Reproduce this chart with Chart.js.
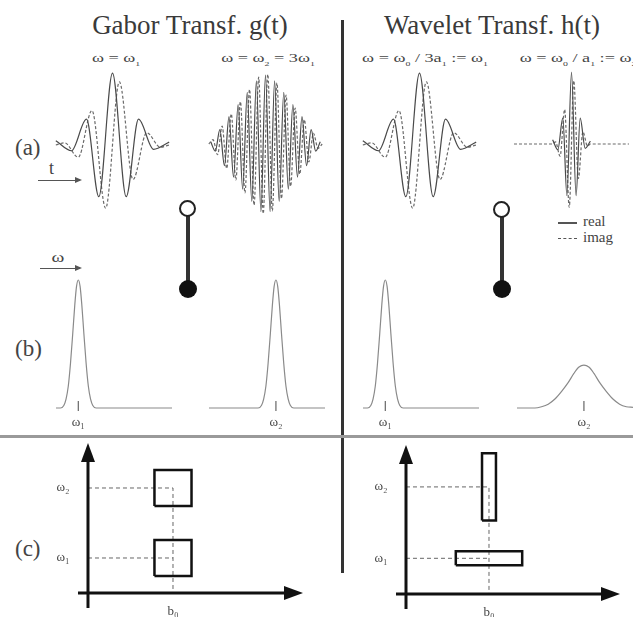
<!DOCTYPE html>
<html>
<head>
<meta charset="utf-8">
<script src="https://cdn.jsdelivr.net/npm/chart.js@4.4.1/dist/chart.umd.min.js"></script>
<style>
  body { margin: 0; background: #fff; }
  #page { position: relative; width: 633px; height: 617px; overflow: hidden; font-family: "Liberation Serif", "DejaVu Serif", serif; color: #444; }
  #page canvas { position: absolute; }
  .t { position: absolute; white-space: nowrap; line-height: 1; }
  .title { font-size: 27px; transform: translateX(-50%); color: #3a3a3a; }
  .sub { font-size: 13px; transform: translateX(-50%) scaleX(1.4); }
  .sub sub { font-size: 7px; }
  .lab { font-size: 23px; }
  .leg { font-size: 15px; }
  .bar { position: absolute; }
  .ring { position: absolute; width: 13px; height: 13px; border: 2.5px solid #222; border-radius: 50%; background: #fff; }
  .dot { position: absolute; width: 18px; height: 18px; border-radius: 50%; background: #111; }
  .arrow { position: absolute; height: 0; border-top: 1.5px solid #555; }
  .arrow::after { content: ""; position: absolute; right: -2px; top: -4px; border-left: 7px solid #555; border-top: 3px solid transparent; border-bottom: 3px solid transparent; }
</style>
</head>
<body>
<div id="page">
  <div class="t title" style="left:190px;top:12px">Gabor Transf. g(t)</div>
  <div class="t title" style="left:492px;top:12px">Wavelet Transf. h(t)</div>
  <div class="t sub" style="left:116px;top:51px">ω = ω<sub>1</sub></div>
  <div class="t sub" style="left:268px;top:51px">ω = ω<sub>2</sub> = 3ω<sub>1</sub></div>
  <div class="t sub" style="left:425px;top:51px">ω = ω<sub>0</sub> / 3a<sub>1</sub> := ω<sub>1</sub></div>
  <div class="t sub" style="left:578px;top:51px">ω = ω<sub>0</sub> / a<sub>1</sub> := ω<sub>2</sub></div>

  <div class="t lab" style="left:15px;top:136px">(a)</div>
  <div class="t lab" style="left:15px;top:337px">(b)</div>
  <div class="t lab" style="left:15px;top:537px">(c)</div>

  <div class="t" style="left:49px;top:159px;font-size:18px">t</div>
  <div class="arrow" style="left:38px;top:180px;width:42px"></div>
  <div class="t" style="left:53px;top:250px;font-size:15px;transform:scaleX(1.3)">ω</div>
  <div class="arrow" style="left:40px;top:268px;width:40px"></div>

  <div class="bar" style="left:558px;top:222px;width:19px;height:1.5px;background:#555"></div>
  <div class="bar" style="left:558px;top:238px;width:19px;border-top:1.5px dashed #555"></div>
  <div class="t leg" style="left:583px;top:214px">real</div>
  <div class="t leg" style="left:583px;top:230px">imag</div>

  <div class="bar" style="left:341px;top:20px;width:3px;height:553px;background:#333"></div>
  <div class="bar" style="left:0;top:435px;width:633px;height:3px;background:#9a9a9a"></div>

  <div class="bar" style="left:186px;top:215px;width:3.5px;height:68px;background:#333"></div>
  <div class="ring" style="left:179px;top:200px"></div>
  <div class="dot" style="left:179px;top:280px"></div>
  <div class="bar" style="left:500px;top:216px;width:3.5px;height:68px;background:#333"></div>
  <div class="ring" style="left:493px;top:201px"></div>
  <div class="dot" style="left:493px;top:280px"></div>
</div>
<script>
// (a) wave packets: extrema, t in periods of omega1
const gaborRealT1 = [-2.07, -1.5, -0.95, -0.5, 0, 0.5, 0.95, 1.5, 2.07];
const gaborRealV1 = [0.06, -0.08, 0.36, -0.72, 1.0, -0.72, 0.36, -0.06, 0.04];
const gaborImagT1 = [-2.07, -1.75, -1.25, -0.75, -0.25, 0.25, 0.75, 1.25, 1.75, 2.07];
const gaborImagV1 = [0, 0.03, -0.17, 0.48, -0.88, 0.88, -0.48, 0.17, -0.03, 0];

const gaborRealT2 = [-2, -1.833, -1.667, -1.5, -1.333, -1.167, -1, -0.833, -0.667, -0.5, -0.333, -0.167, 0,
  0.167, 0.333, 0.5, 0.667, 0.833, 1, 1.167, 1.333, 1.5, 1.667, 1.833, 2];
const gaborRealV2 = [0.03, -0.1, 0.2, -0.3, 0.38, -0.46, 0.55, -0.63, 0.72, -0.8, 0.88, -0.94, 0.96,
  -0.94, 0.88, -0.8, 0.72, -0.63, 0.55, -0.46, 0.38, -0.3, 0.2, -0.1, 0.03];
const gaborImagT2 = [-2.07, -1.917, -1.75, -1.583, -1.417, -1.25, -1.083, -0.917, -0.75, -0.583, -0.417, -0.25, -0.083,
  0.083, 0.25, 0.417, 0.583, 0.75, 0.917, 1.083, 1.25, 1.417, 1.583, 1.75, 1.917, 2.07];
const gaborImagV2 = [0, 0.06, -0.15, 0.25, -0.34, 0.42, -0.5, 0.59, -0.68, 0.76, -0.85, 0.93, -0.97,
  0.97, -0.93, 0.85, -0.76, 0.68, -0.59, 0.5, -0.42, 0.34, -0.25, 0.15, -0.06, 0];

const waveRealT1 = gaborRealT1, waveRealV1 = gaborRealV1;
const waveImagT1 = gaborImagT1, waveImagV1 = gaborImagV1;

const waveRealT2 = [-0.69, -0.5, -0.317, -0.167, 0, 0.167, 0.317, 0.5, 0.69];
const waveRealV2 = [0.06, -0.08, 0.36, -0.72, 1.0, -0.72, 0.36, -0.06, 0.04];
const waveImagT2 = [-2.1, -0.69, -0.583, -0.417, -0.25, -0.083, 0.083, 0.25, 0.417, 0.583, 0.69, 2.1];
const waveImagV2 = [0, 0, 0.03, -0.17, 0.48, -0.88, 0.88, -0.48, 0.17, -0.03, 0, 0];

// (b) spectra
const gaborSpecW1 = [0, 0.2, 0.35, 0.45, 0.55, 0.65, 0.75, 0.84, 0.92, 1, 1.08, 1.16, 1.25, 1.35, 1.45, 1.55, 1.65, 1.8, 5.2];
const gaborSpecV1 = [0, 0, 0.02, 0.07, 0.17, 0.35, 0.58, 0.8, 0.95, 1, 0.95, 0.8, 0.58, 0.35, 0.17, 0.07, 0.02, 0, 0];
const gaborSpecW2 = [0, 2.2, 2.35, 2.45, 2.55, 2.65, 2.75, 2.84, 2.92, 3, 3.08, 3.16, 3.25, 3.35, 3.45, 3.55, 3.65, 3.8, 5.2];
const gaborSpecV2 = gaborSpecV1;
const waveSpecW1 = gaborSpecW1, waveSpecV1 = gaborSpecV1;
const waveSpecW2 = [0, 0.8, 1.1, 1.4, 1.7, 2.0, 2.3, 2.55, 2.78, 3, 3.22, 3.45, 3.7, 4.0, 4.3, 4.6, 4.9, 5.2];
const waveSpecV2 = [0, 0, 0.01, 0.03, 0.07, 0.13, 0.2, 0.27, 0.32, 0.335, 0.32, 0.27, 0.2, 0.13, 0.07, 0.03, 0.01, 0.005];
const specTicks1 = [1], specLabels1 = ['ω₁'];
const specTicks2 = [3], specLabels2 = ['ω₂'];

// (c) time-frequency tiles
const bZero = 1, bLabel = 'b₀';
const tileFreqs = [1, 3], tileLabels = ['ω₁', 'ω₂'];
const gaborHalfT = [0.218, 0.218], gaborHalfW = [0.514, 0.514];
const waveHalfT = [0.40, 0.084], waveHalfW = [0.196, 0.94];

const FONT = '"Liberation Serif", "DejaVu Serif", serif';
const page = document.getElementById('page');

const pts = (xs, ys) => xs.map((x, i) => ({ x: x, y: ys[i] }));

const marks = {
  id: 'marks',
  afterDatasetsDraw(chart, args, o) {
    const ctx = chart.ctx, xs = chart.scales.x, ys = chart.scales.y, area = chart.chartArea;
    ctx.save();
    ctx.fillStyle = '#444';
    ctx.textAlign = 'center';
    ctx.textBaseline = 'middle';
    if (o.kind === 'spec') {
      const y0 = ys.getPixelForValue(0);
      o.ticks.forEach((v, i) => {
        const px = xs.getPixelForValue(v);
        ctx.strokeStyle = '#666';
        ctx.lineWidth = 1.2;
        ctx.beginPath(); ctx.moveTo(px, y0 - 7); ctx.lineTo(px, y0 + 3); ctx.stroke();
        ctx.font = '13px ' + FONT;
        ctx.fillText(o.labels[i], px, y0 + 15);
      });
    }
    if (o.kind === 'tile') {
      const ox = xs.getPixelForValue(0), oy = ys.getPixelForValue(0);
      ctx.strokeStyle = '#111';
      ctx.fillStyle = '#111';
      ctx.lineWidth = 3;
      const xEnd = area.right - o.pad[0], yEnd = area.top + o.pad[1];
      ctx.beginPath(); ctx.moveTo(ox - 10, oy); ctx.lineTo(xEnd - 12, oy); ctx.stroke();
      ctx.beginPath(); ctx.moveTo(ox, oy + 15); ctx.lineTo(ox, yEnd + 12); ctx.stroke();
      ctx.beginPath(); ctx.moveTo(xEnd, oy); ctx.lineTo(xEnd - 19, oy - 7); ctx.lineTo(xEnd - 19, oy + 7); ctx.closePath(); ctx.fill();
      ctx.beginPath(); ctx.moveTo(ox, yEnd); ctx.lineTo(ox - 7, yEnd + 19); ctx.lineTo(ox + 7, yEnd + 19); ctx.closePath(); ctx.fill();
      ctx.fillStyle = '#444';
      ctx.font = '13px ' + FONT;
      tileFreqs.forEach((w, i) => ctx.fillText(tileLabels[i], ox - 25, ys.getPixelForValue(w)));
      ctx.fillText(bLabel, xs.getPixelForValue(bZero), oy + 19);
    }
    ctx.restore();
  }
};

function addChart(box, xr, yr, datasets, marksOpts) {
  const c = document.createElement('canvas');
  c.width = box[2]; c.height = box[3];
  c.style.left = box[0] + 'px'; c.style.top = box[1] + 'px';
  page.appendChild(c);
  return new Chart(c, {
    type: 'scatter',
    data: { datasets: datasets },
    options: {
      responsive: false, animation: false, events: [],
      layout: { padding: 0 },
      elements: { point: { radius: 0 } },
      plugins: { legend: { display: false }, tooltip: { enabled: false }, marks: marksOpts || {} },
      scales: {
        x: { type: 'linear', display: false, min: xr[0], max: xr[1] },
        y: { type: 'linear', display: false, min: yr[0], max: yr[1] }
      }
    },
    plugins: [marks]
  });
}

const curve = (data, color, width, dash) => ({
  data: data, showLine: true, borderColor: color, borderWidth: width, borderDash: dash || [],
  cubicInterpolationMode: 'monotone', pointRadius: 0, clip: false
});

// (a)
const waveRange = [-2.1, 2.1], ampRange = [-1.1, 1.1];
const packets = [
  [55, 66, gaborRealT1, gaborRealV1, gaborImagT1, gaborImagV1],
  [208, 65, gaborRealT2, gaborRealV2, gaborImagT2, gaborImagV2],
  [362, 66, waveRealT1, waveRealV1, waveImagT1, waveImagV1],
  [514, 65, waveRealT2, waveRealV2, waveImagT2, waveImagV2]
];
packets.forEach(p => {
  addChart([p[0], p[1], 115, 158], waveRange, ampRange, [
    curve(pts(p[2], p[3]), '#4a4a4a', 1.2),
    curve(pts(p[4], p[5]), '#6a6a6a', 1.2, [3, 2])
  ]);
});

// (b)
const specRange = [0, 5.2], specAmp = [-0.211, 1.078];
const spectra = [
  [56, gaborSpecW1, gaborSpecV1, specTicks1, specLabels1],
  [209, gaborSpecW2, gaborSpecV2, specTicks2, specLabels2],
  [363, waveSpecW1, waveSpecV1, specTicks1, specLabels1],
  [517, waveSpecW2, waveSpecV2, specTicks2, specLabels2]
];
spectra.forEach(s => {
  addChart([s[0], 270, 116, 165], specRange, specAmp, [
    curve(pts(s[1], s[2]), '#8a8a8a', 1.2)
  ], { kind: 'spec', ticks: s[3], labels: s[4] });
});

// (c)
function tileSets(halfT, halfW) {
  const sets = [];
  tileFreqs.forEach((w, i) => {
    const l = bZero - halfT[i], r = bZero + halfT[i], b = w - halfW[i], t = w + halfW[i];
    sets.push({
      data: [{ x: l, y: b }, { x: r, y: b }, { x: r, y: t }, { x: l, y: t }, { x: l, y: b }],
      showLine: true, borderColor: '#111', borderWidth: 2.5, borderJoinStyle: 'miter', pointRadius: 0, clip: false
    });
  });
  const top = Math.max(...tileFreqs);
  tileFreqs.forEach(w => {
    const d = w === top ? [{ x: 0, y: w }, { x: bZero, y: w }, { x: bZero, y: 0 }] : [{ x: 0, y: w }, { x: bZero, y: w }];
    sets.push({ data: d, showLine: true, borderColor: '#666', borderWidth: 1, borderDash: [4, 3], pointRadius: 0 });
  });
  return sets;
}
addChart([50, 440, 260, 177], [-0.447, 2.612], [-0.686, 4.371], tileSets(gaborHalfT, gaborHalfW), { kind: 'tile', pad: [7, 3] });
addChart([365, 440, 265, 177], [-0.494, 2.699], [-0.644, 4.314], tileSets(waveHalfT, waveHalfW), { kind: 'tile', pad: [10, 5] });
</script>
</body>
</html>
